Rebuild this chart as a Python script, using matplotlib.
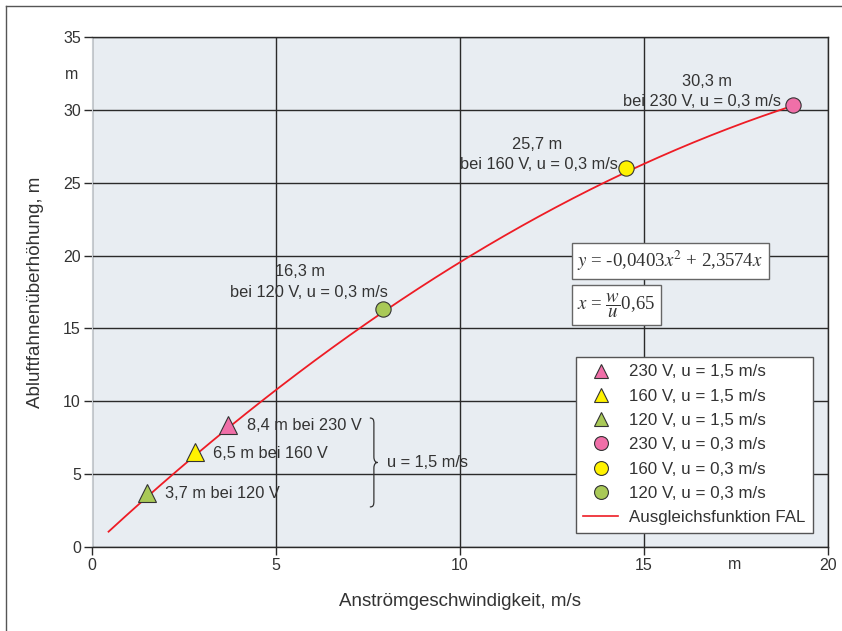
import numpy as np
import matplotlib.pyplot as plt
from matplotlib.path import Path
from matplotlib.patches import PathPatch
from matplotlib.lines import Line2D

plt.rcParams['font.family'] = ['Liberation Sans', 'DejaVu Sans']
plt.rcParams['mathtext.fontset'] = 'stix'

# measured points (x = flow velocity, y = plume rise)
labels_tri = ['230 V, u = 1,5 m/s', '160 V, u = 1,5 m/s', '120 V, u = 1,5 m/s']
x_tri = [3.7, 2.8, 1.5]
y_tri = [8.4, 6.5, 3.7]
labels_circ = ['230 V, u = 0,3 m/s', '160 V, u = 0,3 m/s', '120 V, u = 0,3 m/s']
x_circ = [19.05, 14.5, 7.9]
y_circ = [30.3, 26.0, 16.3]
colors = ['#f06fa8', '#fff200', '#a9c957']

# fit function from the chart: y = a*x^2 + b*x
fit_a = -0.0403
fit_b = 2.3574
fit_xmin, fit_xmax = 0.45, 19.05

txt = '#333333'
fig = plt.figure(figsize=(8.42, 6.31), dpi=100)
ax = fig.add_axes([92/842, 84/631, 736/842, 510/631])
ax.set_facecolor('#e8edf2')

xf = np.linspace(fit_xmin, fit_xmax, 200)
ax.plot(xf, fit_a*xf**2 + fit_b*xf, color='#ee1c25', lw=1.3, zorder=3)

for i in range(3):
    ax.plot(x_tri[i], y_tri[i], marker='^', ms=13, color=colors[i], mec='#333333', mew=0.8,
            ls='none', zorder=4, label=labels_tri[i])
for i in range(3):
    ax.plot(x_circ[i], y_circ[i], marker='o', ms=11, color=colors[i], mec='#333333', mew=0.8,
            ls='none', zorder=4, label=labels_circ[i])
ax.plot([], [], color='#ee1c25', lw=1.2, label='Ausgleichsfunktion FAL')

ax.set_xlim(0, 20)
ax.set_ylim(0, 35)
ax.set_xticks(range(0, 21, 5))
ax.set_yticks(range(0, 36, 5))
ax.grid(True, color='#2a2a2a', lw=1.0)
ax.set_axisbelow(True)
for s in ['top', 'right', 'bottom']:
    ax.spines[s].set_color('#2a2a2a')
    ax.spines[s].set_linewidth(1.0)
ax.spines['left'].set_color('#c8cdd2')
ax.tick_params(direction='out', length=6, width=1.0, color='#2a2a2a', labelsize=11.5,
               labelcolor=txt, pad=2)

ax.set_xlabel('Anströmgeschwindigkeit, m/s', fontsize=13.5, color=txt, labelpad=14)
ax.set_ylabel('Abluftfahnenüberhöhung, m', fontsize=13.5, color=txt, labelpad=14)
ax.text(-0.019, 32.4, 'm', fontsize=11.5, color=txt, ha='right', va='center',
        transform=ax.get_yaxis_transform())
ax.text(17.45, -1.2, 'm', fontsize=11.5, color=txt, ha='center', va='center')

# annotations
fs = 11.8
ax.text(16.7, 31.95, '30,3 m', fontsize=fs, color=txt, ha='center', va='center')
ax.text(18.73, 30.55, 'bei 230 V, u = 0,3 m/s', fontsize=fs, color=txt, ha='right', va='center')
ax.text(12.1, 27.65, '25,7 m', fontsize=fs, color=txt, ha='center', va='center')
ax.text(14.29, 26.23, 'bei 160 V, u = 0,3 m/s', fontsize=fs, color=txt, ha='right', va='center')
ax.text(5.65, 18.88, '16,3 m', fontsize=fs, color=txt, ha='center', va='center')
ax.text(8.04, 17.45, 'bei 120 V, u = 0,3 m/s', fontsize=fs, color=txt, ha='right', va='center')
ax.text(4.21, 8.37, '8,4 m bei 230 V', fontsize=fs, color=txt, ha='left', va='center')
ax.text(3.29, 6.45, '6,5 m bei 160 V', fontsize=fs, color=txt, ha='left', va='center')
ax.text(1.98, 3.64, '3,7 m bei 120 V', fontsize=fs, color=txt, ha='left', va='center')
ax.text(8.02, 5.8, 'u = 1,5 m/s', fontsize=fs, color=txt, ha='left', va='center')

# curly brace
bx0, bx1, bx2 = 7.55, 7.66, 7.76
by0, by1, bym = 8.85, 2.75, 5.8
verts = [(bx0, by0), (bx1 - 0.02, by0), (bx1, by0 - 0.1), (bx1, by0 - 0.4),
         (bx1, bym + 0.4),
         (bx1, bym + 0.1), (bx1 + 0.05, bym), (bx2, bym),
         (bx1 + 0.05, bym), (bx1, bym - 0.1), (bx1, bym - 0.4),
         (bx1, by1 + 0.4),
         (bx1, by1 + 0.1), (bx1 - 0.02, by1), (bx0, by1)]
codes = [Path.MOVETO, Path.CURVE4, Path.CURVE4, Path.CURVE4,
         Path.LINETO,
         Path.CURVE4, Path.CURVE4, Path.CURVE4,
         Path.CURVE4, Path.CURVE4, Path.CURVE4,
         Path.LINETO,
         Path.CURVE4, Path.CURVE4, Path.CURVE4]
ax.add_patch(PathPatch(Path(verts, codes), fill=False, ec='#333333', lw=0.9, zorder=5))

# equation boxes
box = dict(boxstyle='square,pad=0.3', fc='white', ec='#666666', lw=1.0)
ax.text(13.19, 19.63, r'$y$ = -0,0403$x^2$ + 2,3574$x$', fontsize=13.6,
        family='Liberation Serif', color=txt, ha='left', va='center', bbox=box)
ax.text(13.19, 16.6, r'$x$ = $\dfrac{w}{u}$0,65', fontsize=13.6,
        family='Liberation Serif', color=txt, ha='left', va='center', bbox=box)

leg = ax.legend(loc='lower right', bbox_to_anchor=(0.9796, 0.0275), fontsize=12.2,
                frameon=True, fancybox=False, edgecolor='#555555', framealpha=1,
                handlelength=2.05, labelspacing=0.55, borderpad=0.45, handletextpad=0.65,
                borderaxespad=0.0, numpoints=1)
for t in leg.get_texts():
    t.set_color(txt)
for h in leg.legend_handles:
    if h.get_marker() in ('^', 'o'):
        h.set_markersize(10)
leg.get_frame().set_linewidth(1.0)

# figure border (left and top only)
fig.add_artist(Line2D([6/842, 6/842], [0, 1 - 6/631], color='#555555', lw=1.0))
fig.add_artist(Line2D([6/842, 1], [1 - 6/631, 1 - 6/631], color='#555555', lw=1.0))

fig.savefig('out.png', dpi=100)
